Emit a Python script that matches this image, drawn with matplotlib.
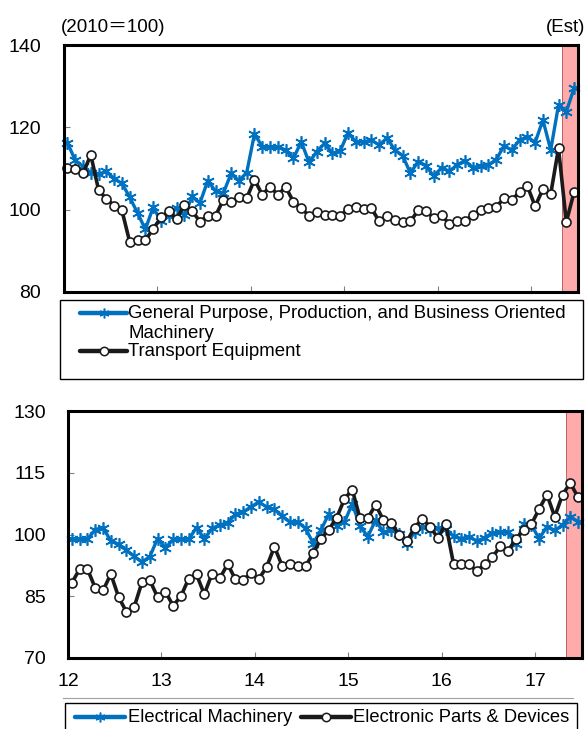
import matplotlib
matplotlib.use("Agg")
import matplotlib.pyplot as plt
from matplotlib.lines import Line2D
from matplotlib.patches import Rectangle
import numpy as np

plt.rcParams['font.family'] = ['Liberation Sans', 'Noto Sans CJK JP', 'DejaVu Sans']

# Monthly indices, Jan 2012 - Jun 2017 (2010 = 100)
general_machinery = [
    116.3, 112.0, 110.5, 109.0, 108.6, 109.3, 107.5, 106.4, 103.0, 99.2, 95.2, 100.6,
    97.2, 98.4, 100.4, 98.6, 103.2, 101.6, 107.0, 104.5, 104.0, 108.8, 107.0, 109.0,
    118.4, 115.3, 115.2, 115.2, 114.5, 112.5, 116.5, 111.5, 114.1, 116.1, 113.7, 114.3,
    118.7, 116.5, 116.5, 116.9, 115.7, 117.4, 114.5, 113.1, 108.9, 111.7, 110.7, 108.1,
    110.2, 109.3, 110.9, 111.9, 110.2, 110.7, 110.9, 112.1, 115.5, 114.5, 116.9, 117.7,
    116.3, 121.8, 114.5, 125.4, 123.8, 129.5,
]
transport_equipment = [
    110.2, 109.9, 108.8, 113.3, 104.8, 102.6, 101.0, 99.8, 92.1, 92.7, 92.6, 95.3,
    98.1, 99.6, 97.7, 101.1, 99.7, 97.1, 98.5, 98.5, 102.4, 101.9, 103.1, 102.8,
    107.3, 103.6, 105.6, 103.6, 105.5, 101.9, 100.4, 98.5, 99.4, 98.8, 98.8, 98.5,
    100.2, 100.6, 100.2, 100.3, 97.2, 98.5, 97.6, 97.0, 97.2, 99.8, 99.6, 98.0,
    98.8, 96.4, 97.3, 97.2, 98.8, 99.8, 100.4, 100.6, 102.8, 102.4, 104.2, 105.8,
    100.8, 105.0, 103.8, 114.9, 97.0, 104.3,
]
electrical_machinery = [
    98.9, 98.8, 98.8, 101.2, 101.7, 98.4, 97.6, 96.2, 94.7, 93.3, 94.6, 99.0,
    96.7, 98.8, 98.8, 98.8, 101.7, 98.9, 101.5, 102.3, 102.9, 104.9, 105.5, 106.7,
    107.9, 106.7, 106.1, 104.5, 103.0, 103.0, 101.5, 97.8, 101.2, 105.0, 102.0, 103.0,
    107.5, 102.0, 99.5, 103.5, 100.5, 101.0, 100.2, 97.6, 100.6, 101.9, 101.0, 101.5,
    101.3, 99.6, 99.0, 99.5, 98.4, 99.2, 100.4, 100.6, 100.6, 97.8, 102.5, 102.3,
    99.0, 101.9, 101.0, 102.3, 104.3, 103.1,
]
electronic_parts = [
    88.3, 91.6, 91.6, 87.0, 86.4, 90.4, 84.8, 81.2, 82.4, 88.4, 88.9, 84.8,
    86.1, 82.7, 85.0, 89.3, 90.3, 85.5, 90.5, 89.4, 92.8, 89.1, 89.0, 90.6,
    89.2, 92.1, 97.0, 92.4, 92.9, 92.4, 92.3, 95.5, 99.0, 101.2, 104.1, 108.6,
    110.9, 103.9, 104.0, 107.2, 103.5, 102.8, 100.0, 98.3, 101.7, 103.8, 101.9, 99.1,
    102.6, 92.9, 92.9, 92.8, 91.1, 92.8, 94.5, 97.1, 96.0, 98.9, 101.0, 102.5,
    106.2, 109.7, 104.3, 109.7, 112.5, 109.0,
]

year_ticks = [12, 13, 14, 15, 16, 17]
year_labels = ["12", "13", "14", "15", "16", "17"]
top_yticks = [80, 100, 120, 140]
bottom_yticks = [70, 85, 100, 115, 130]
estimate_span = (17 + 4 / 12, 17.5)   # May-Jun 2017 estimates

n = len(general_machinery)
x = 12 + (np.arange(n) + 0.5) / 12

BLUE = "#0070C0"
BLACK = "#1a1a1a"
SHADE = "#FFABAB"

W, H = 586, 729
fig = plt.figure(figsize=(W / 100, H / 100), dpi=100)


def px_axes(left, top, right, bottom):
    return fig.add_axes([left / W, 1 - bottom / H, (right - left) / W, (bottom - top) / H])


def style_axes(ax, ylim, yticks, show_xlabels):
    ax.set_xlim(12, 17.5)
    ax.set_ylim(*ylim)
    ax.set_yticks(yticks)
    ax.set_xticks(year_ticks)
    if show_xlabels:
        ax.set_xticklabels(year_labels)
    else:
        ax.set_xticklabels([])
    ax.tick_params(axis='both', direction='in', length=4, width=0.8, color='#808080',
                   labelsize=14, labelcolor='black')
    ax.tick_params(axis='y', pad=16)
    ax.tick_params(axis='x', pad=11)
    for s in ax.spines.values():
        s.set_linewidth(2.2)
        s.set_color('black')
        s.set_zorder(5)
    ax.axvspan(*estimate_span, facecolor=SHADE, edgecolor='#b05050', linewidth=0.6, zorder=1)


def draw_pair(ax, blue_vals, black_vals):
    ax.plot(x, blue_vals, color=BLUE, lw=2.4, marker=(6, 2, 0), ms=9, mew=1.2,
            mec=BLUE, zorder=3, clip_on=False)
    ax.plot(x, black_vals, color=BLACK, lw=2.6, marker='o', ms=6.5, mfc='white',
            mec=BLACK, mew=1.2, zorder=4, clip_on=False)


# Upper panel
ax1 = px_axes(63.5, 45, 578, 292)
style_axes(ax1, (80, 140), top_yticks, False)
draw_pair(ax1, general_machinery, transport_equipment)

# Lower panel
ax2 = px_axes(68, 411, 582, 658)
style_axes(ax2, (70, 130), bottom_yticks, True)
draw_pair(ax2, electrical_machinery, electronic_parts)

fig.text(61 / W, 1 - 27 / H, "(2010＝100)", fontsize=13.5, va='center', ha='left')
fig.text(585 / W, 1 - 27 / H, "(Est)", fontsize=13.5, va='center', ha='right')


def legend_axes(left, top, width, height):
    lax = px_axes(left, top, left + width, top + height)
    lax.set_xlim(0, width)
    lax.set_ylim(height, 0)
    lax.axis('off')
    return lax


def legend_handle(lax, x0, x1, y, color, marker, ms, mfc, lw):
    lax.add_line(Line2D([x0, x1], [y, y], color=color, lw=lw, solid_capstyle='round',
                        clip_on=False))
    lax.add_line(Line2D([(x0 + x1) / 2], [y], marker=marker, ms=ms, mfc=mfc, mec=color,
                        mew=1.1, color=color, clip_on=False))


# Upper legend
lg1 = legend_axes(60, 300, 523, 79)
lg1.add_patch(Rectangle((0, 0), 523, 79, fill=False, lw=1.0, ec='black', clip_on=False))
legend_handle(lg1, 20, 67, 13, BLUE, (6, 2, 0), 7, BLUE, 3.2)
legend_handle(lg1, 20, 67, 51, BLACK, 'o', 6, 'white', 3.2)
lg1.text(68, 13, "General Purpose, Production, and Business Oriented", fontsize=13.4,
         va='center', ha='left')
lg1.text(68, 33, "Machinery", fontsize=13.4, va='center', ha='left')
lg1.text(68, 51, "Transport Equipment", fontsize=13.4, va='center', ha='left')

# Lower legend
lg2 = legend_axes(65, 703, 512, 26)
lg2.add_patch(Rectangle((0, 0), 512, 40, fill=False, lw=1.0, ec='black', clip_on=False))
legend_handle(lg2, 10, 60, 14, BLUE, (6, 2, 0), 7, BLUE, 3.2)
lg2.text(63, 14, "Electrical Machinery", fontsize=13.2, va='center', ha='left')
legend_handle(lg2, 236, 286, 14, BLACK, 'o', 6, 'white', 3.2)
lg2.text(288, 14, "Electronic Parts & Devices", fontsize=13.2, va='center', ha='left')

fig.add_artist(Line2D([63 / W, 573 / W], [1 - 698 / H, 1 - 698 / H], color='#a0a0a0', lw=0.8))

fig.savefig("out.png", dpi=100)
